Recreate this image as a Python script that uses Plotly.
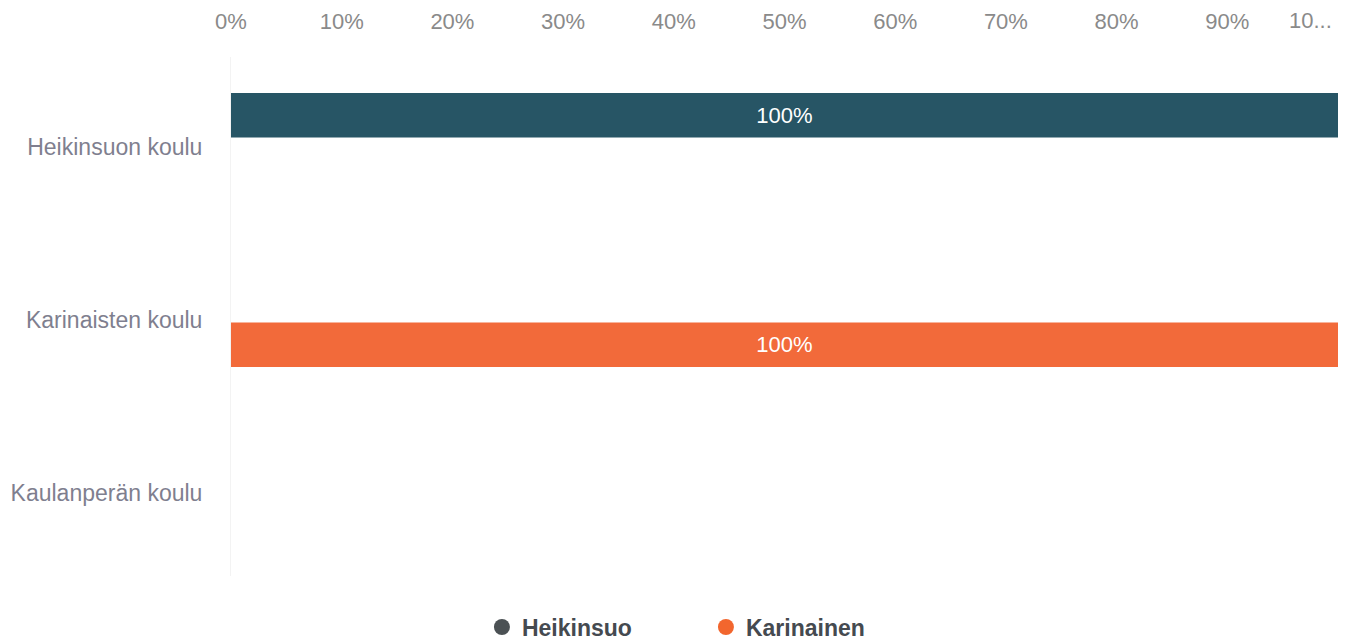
import plotly.graph_objects as go

categories = ["Heikinsuon koulu", "Karinaisten koulu", "Kaulanperän koulu"]
series_names = ["Heikinsuo", "Karinainen"]
heikinsuo_vals = [100, None, None]
karinainen_vals = [None, 100, None]
tick_vals = [0, 10, 20, 30, 40, 50, 60, 70, 80, 90]
tick_text = ["0%", "10%", "20%", "30%", "40%", "50%", "60%", "70%", "80%", "90%"]
last_tick_val = 100
last_tick_text = "10..."

bar_colors = ["#275565", "#f26a3a"]
legend_colors = ["#4b5154", "#f2662e"]
FONT = "Liberation Sans, Arial"

fig = go.Figure()
for name, vals, col in zip(series_names, [heikinsuo_vals, karinainen_vals], bar_colors):
    fig.add_trace(go.Bar(
        y=categories, x=vals, name=name, orientation="h",
        marker=dict(color=col, line=dict(width=0)),
        text=[f"{v}%" if v is not None else "" for v in vals],
        textposition="inside", insidetextanchor="middle",
        textfont=dict(color="white", size=22, family=FONT),
        showlegend=False, hoverinfo="x+y",
    ))
for name, col in zip(series_names, legend_colors):
    fig.add_trace(go.Scatter(
        x=[None], y=[None], mode="markers", name=f"<b>{name}</b>",
        marker=dict(color=col, size=20, symbol="circle"),
        showlegend=True,
    ))

# the page body adds an 8px offset, so the figure is sized to end at the window edge
fig.update_layout(
    width=1338, height=633,
    barmode="group", bargap=0.347, bargroupgap=0.213,
    plot_bgcolor="white", paper_bgcolor="white",
    margin=dict(l=223, r=8, t=49, b=65, autoexpand=False),
    font=dict(family=FONT, color="#808080", size=22),
    legend=dict(
        orientation="h", xref="container", x=0.3542, xanchor="left",
        yref="container", y=0.022, yanchor="middle",
        font=dict(size=23, color="#454a50", family=FONT),
        itemsizing="trace", traceorder="normal", itemwidth=30,
        entrywidth=179, entrywidthmode="pixels",
    ),
    xaxis=dict(
        side="top", range=[0, 100], tickvals=tick_vals, ticktext=tick_text,
        showgrid=False, zeroline=False, showline=False, ticks="",
        tickfont=dict(size=22, color="#8a8a8a"), ticklabelstandoff=23,
        fixedrange=True, automargin=False,
    ),
    yaxis=dict(
        autorange="reversed", showgrid=False, zeroline=False, ticks="",
        showline=True, linecolor="#f3f3f3", linewidth=1,
        tickfont=dict(size=23, color="#7f7f8f"), ticklabelstandoff=23,
        ticklabelshift=-3, automargin=False,
    ),
    annotations=[dict(
        x=last_tick_val, xref="x", xanchor="right", xshift=-4,
        y=1, yref="paper", yanchor="bottom", yshift=22,
        text=last_tick_text, showarrow=False,
        font=dict(size=22, color="#8a8a8a"),
    )],
)

fig.write_html("out.html")
